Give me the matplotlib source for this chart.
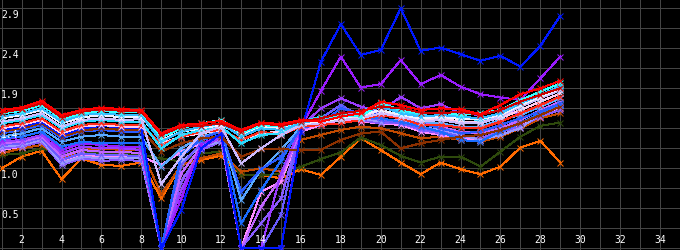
import numpy as np
import matplotlib
matplotlib.use('Agg')
import matplotlib.pyplot as plt

# x positions shared by every series
x = list(range(1, 30))

red = [1.66,1.69,1.77,1.60,1.66,1.69,1.67,1.66,1.38,1.48,1.50,1.53,1.42,1.51,1.49,1.54,1.52,1.58,1.62,1.76,1.72,1.66,1.68,1.67,1.61,1.72,1.85,1.92,2.01]
darkred = [1.63,1.67,1.74,1.57,1.64,1.67,1.65,1.64,1.36,1.46,1.47,1.50,1.40,1.50,1.47,1.52,1.56,1.62,1.65,1.70,1.68,1.63,1.62,1.64,1.60,1.66,1.76,1.84,1.92]
cyan = [1.62,1.65,1.72,1.55,1.62,1.65,1.63,1.63,1.33,1.44,1.50,1.54,1.38,1.48,1.46,1.52,1.56,1.60,1.58,1.74,1.66,1.62,1.63,1.60,1.62,1.66,1.78,1.88,1.98]
lightblue = [1.58,1.62,1.68,1.52,1.60,1.62,1.60,1.60,1.28,1.40,1.46,1.50,1.34,1.44,1.42,1.50,1.55,1.58,1.62,1.70,1.62,1.58,1.60,1.58,1.56,1.62,1.74,1.84,1.95]
white = [1.56,1.60,1.66,1.50,1.57,1.60,1.57,1.58,1.30,1.40,1.44,1.48,1.36,1.46,1.44,1.50,1.52,1.56,1.60,1.66,1.60,1.56,1.58,1.55,1.55,1.60,1.72,1.82,1.92]
lavender = [1.52,1.56,1.62,1.46,1.54,1.56,1.54,1.55,0.77,1.10,1.38,1.46,1.02,1.20,1.36,1.48,1.50,1.54,1.56,1.62,1.58,1.52,1.54,1.50,1.50,1.58,1.70,1.80,1.90]
cyan2 = [1.50,1.54,1.60,1.44,1.52,1.54,1.52,1.52,1.20,1.36,1.42,1.46,1.26,1.36,1.38,1.52,1.58,1.54,1.64,1.74,1.64,1.60,1.58,1.56,1.54,1.60,1.70,1.80,1.90]
red2 = [1.46,1.50,1.56,1.40,1.48,1.50,1.48,1.48,1.24,1.34,1.40,1.42,1.30,1.40,1.36,1.46,1.48,1.50,1.54,1.60,1.56,1.48,1.48,1.45,1.44,1.52,1.62,1.72,1.82]
pinkwhite = [1.44,1.48,1.54,1.38,1.46,1.48,1.46,1.46,1.26,1.34,1.38,1.42,1.30,1.38,1.40,1.48,1.52,1.56,1.58,1.66,1.58,1.54,1.56,1.52,1.52,1.56,1.66,1.76,1.86]
blue = [1.42,1.46,1.52,1.36,1.44,1.47,1.45,1.44,0.00,0.46,1.20,1.38,0.00,0.00,0.00,1.40,2.24,2.69,2.32,2.38,2.88,2.37,2.41,2.33,2.25,2.31,2.18,2.43,2.79]
brown = [1.40,1.44,1.50,1.34,1.41,1.44,1.42,1.42,1.16,1.26,1.32,1.34,1.10,1.19,1.19,1.18,1.18,1.30,1.38,1.40,1.20,1.26,1.30,1.34,1.36,1.42,1.50,1.60,1.70]
blue2 = [1.38,1.42,1.48,1.32,1.40,1.42,1.40,1.40,0.00,1.10,1.32,1.40,0.68,0.95,1.10,1.44,1.50,1.68,1.62,1.62,1.56,1.50,1.44,1.38,1.40,1.48,1.56,1.64,1.74]
skyblue = [1.34,1.38,1.44,1.28,1.34,1.36,1.34,1.34,0.98,1.20,1.34,1.40,0.58,0.94,1.18,1.46,1.52,1.58,1.56,1.64,1.56,1.52,1.50,1.46,1.46,1.54,1.60,1.70,1.80]
azure = [1.32,1.34,1.40,1.22,1.28,1.26,1.26,1.26,0.00,1.14,1.30,1.36,0.30,0.70,1.05,1.46,1.54,1.60,1.58,1.56,1.52,1.46,1.40,1.30,1.28,1.40,1.50,1.62,1.72]
purple = [1.30,1.34,1.40,1.18,1.26,1.24,1.22,1.22,0.00,0.60,1.25,1.36,0.00,0.00,0.00,1.45,1.89,2.30,1.93,1.97,2.26,1.97,2.08,1.94,1.85,1.81,1.78,2.04,2.30]
purple2 = [1.28,1.30,1.36,1.14,1.22,1.20,1.20,1.18,0.00,0.70,1.20,1.34,0.00,0.00,0.90,1.46,1.68,1.80,1.70,1.64,1.82,1.68,1.73,1.62,1.60,1.66,1.62,1.72,1.80]
violet = [1.26,1.28,1.34,1.10,1.18,1.16,1.16,1.14,0.00,0.90,1.22,1.32,0.00,0.50,0.85,1.42,1.52,1.62,1.60,1.58,1.62,1.52,1.46,1.40,1.38,1.44,1.54,1.66,1.76]
indigo = [1.24,1.26,1.32,1.06,1.14,1.12,1.12,1.10,0.00,1.00,1.26,1.30,0.00,0.00,0.40,1.46,1.56,1.72,1.58,1.54,1.50,1.44,1.40,1.34,1.36,1.44,1.50,1.60,1.70]
periwinkle = [1.22,1.24,1.30,1.02,1.10,1.08,1.08,1.08,0.00,1.04,1.22,1.28,0.00,0.00,0.00,1.44,1.50,1.60,1.56,1.52,1.54,1.46,1.42,1.36,1.30,1.36,1.44,1.62,1.72]
slate = [1.20,1.22,1.28,1.00,1.08,1.05,1.06,1.05,0.00,0.80,1.18,1.28,0.00,0.30,0.60,1.44,1.50,1.56,1.54,1.50,1.50,1.42,1.38,1.34,1.32,1.40,1.46,1.58,1.66]
pink = [1.18,1.22,1.28,1.04,1.12,1.10,1.10,1.10,1.00,1.16,1.26,1.30,0.00,0.68,0.80,1.40,1.48,1.54,1.52,1.50,1.48,1.40,1.36,1.32,1.30,1.40,1.48,1.58,1.68]
rust = [1.14,1.20,1.24,1.08,1.18,1.20,1.18,1.18,0.65,1.00,1.08,1.14,0.92,0.96,0.92,1.30,1.36,1.42,1.46,1.44,1.38,1.32,1.34,1.30,1.28,1.34,1.44,1.56,1.62]
green = [1.12,1.14,1.20,1.14,1.16,1.14,1.13,1.12,1.08,1.04,1.14,1.16,0.88,0.88,0.89,0.98,1.07,1.15,1.33,1.24,1.11,1.03,1.10,1.10,0.98,1.16,1.34,1.47,1.51]
orange = [0.96,1.10,1.17,0.83,1.08,1.00,0.99,1.03,0.60,1.00,1.06,1.11,0.88,0.88,0.84,0.95,0.88,1.10,1.32,1.18,1.03,0.89,1.03,0.95,0.89,0.98,1.21,1.29,1.03]

series = [
    (orange, '#ff6a00'), (green, '#2e4a0c'), (rust, '#c24a00'), (pink, '#ff8cff'),
    (slate, '#8a5cff'), (periwinkle, '#9a9aff'), (indigo, '#6a5cff'), (violet, '#c266ff'),
    (purple2, '#9a3cff'), (purple, '#9a1cff'), (azure, '#1a6cff'), (skyblue, '#5aaaff'),
    (blue2, '#2a5cff'), (brown, '#8c3000'), (blue, '#0018ff'), (pinkwhite, '#ffccee'),
    (red2, '#ff2a1a'), (cyan2, '#2adcff'), (lavender, '#ccbbff'), (white, '#f0f0ff'),
    (lightblue, '#33bbff'), (cyan, '#33ffff'), (darkred, '#cc0000'), (red, '#ff0000'),
]

xticks = [2, 4, 6, 8, 10, 12, 14, 16, 18, 20, 22, 24, 26, 28, 30, 32, 34]
yticks = [0.48, 0.96, 1.44, 1.92, 2.40, 2.88]

fig = plt.figure(figsize=(6.8, 2.5), dpi=100, facecolor='black')
ax = fig.add_axes([0, 0, 1, 1], facecolor='black')

ax.set_xlim(0.915, 34.915)
ax.set_ylim(-0.02, 2.98)
ax.set_xticks(np.arange(1, 36, 1))
ax.set_yticks(np.arange(0, 3.0, 0.24))
ax.grid(True, color='#444444', linewidth=0.72, antialiased=False)
ax.set_axisbelow(True)
ax.tick_params(length=0, labelbottom=False, labelleft=False)
for s in ax.spines.values():
    s.set_visible(False)

for vals, col in series:
    ax.plot(x, vals, color=col, linewidth=0.72, marker='x', markersize=4,
            markeredgewidth=0.72, antialiased=False, zorder=3)

font = dict(family='DejaVu Sans Mono', size=7, color='white', zorder=5)
for t in xticks:
    ax.text(t, 0.1, str(t), ha='center', va='center', **font)
for t in yticks:
    ax.text(0.96, t - 0.02, '%.1f' % t, ha='left', va='top', **font)

fig.savefig('out.png', dpi=100, facecolor='black')
